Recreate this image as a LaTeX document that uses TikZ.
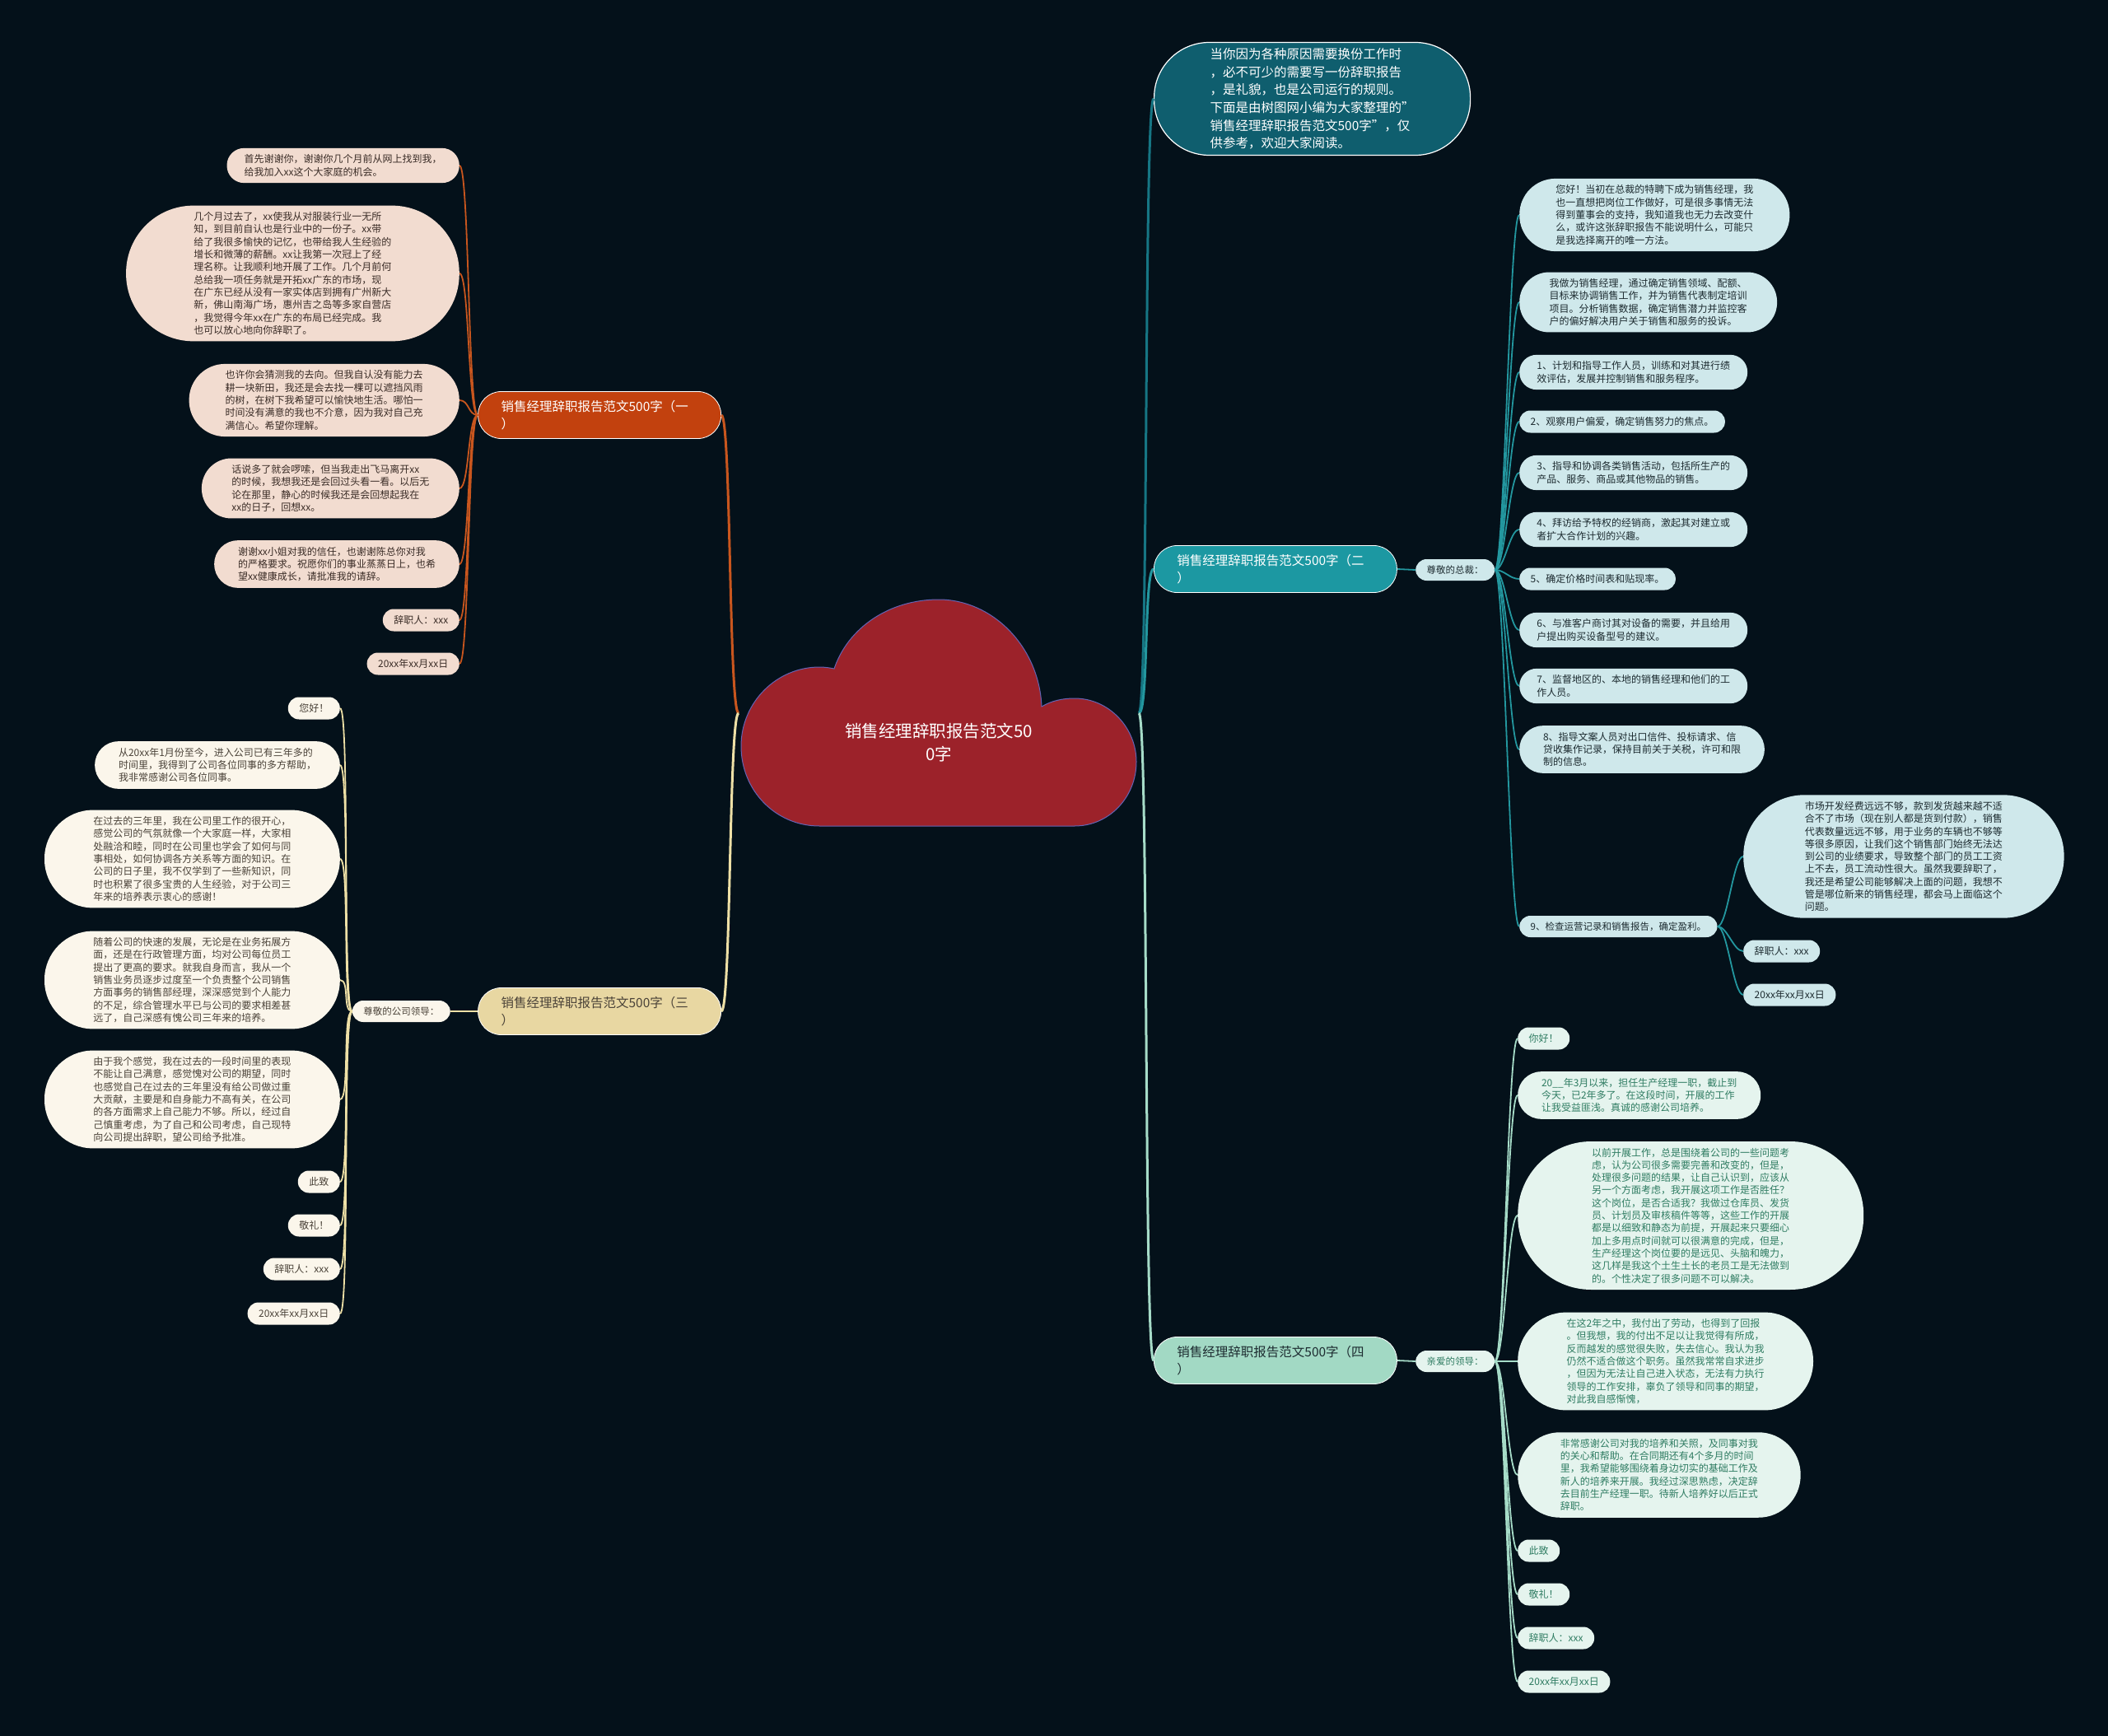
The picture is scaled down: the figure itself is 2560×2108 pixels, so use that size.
\documentclass[tikz,border=0pt]{standalone}
\usepackage{fontspec}
\setmainfont{Noto Sans CJK SC}
\usepackage{tikz}

\definecolor{bgnavy}{HTML}{04111A}
\definecolor{cloudred}{HTML}{9C222A}
\definecolor{cloudedge}{HTML}{6464B4}
\definecolor{orangebr}{HTML}{C2410E}
\definecolor{orangeln}{HTML}{C9561E}
\definecolor{peachfill}{HTML}{F2DCD0}
\definecolor{peachink}{HTML}{3A2C26}
\definecolor{tealbr}{HTML}{1C98A2}
\definecolor{tealln}{HTML}{23979F}
\definecolor{tealfill}{HTML}{CFE8EB}
\definecolor{tealink}{HTML}{1D2B30}
\definecolor{introfill}{HTML}{0F5E6E}
\definecolor{introln}{HTML}{167684}
\definecolor{creambr}{HTML}{E8D7A2}
\definecolor{creamln}{HTML}{EEE0A6}
\definecolor{creamfill}{HTML}{FBF6EB}
\definecolor{creamink}{HTML}{4A4238}
\definecolor{mintbr}{HTML}{A2D9C4}
\definecolor{mintln}{HTML}{A6DCC8}
\definecolor{mintfill}{HTML}{E5F4EE}
\definecolor{mintink}{HTML}{2F7C62}

\begin{document}
\begin{tikzpicture}[
  x=1pt, y=-1pt,
  every node/.style={align=left, inner xsep=1pt, inner ysep=7.5pt},
  pill/.style={minimum height={27pt+(#1-1)*15.3pt}, rounded corners={13.3pt+(#1-1)*7.6pt}, inner xsep={13.5pt+(#1-1)*7.65pt}},
  leaf/.style={font=\fontsize{12}{15.3}\selectfont},
  orleaf/.style={leaf, fill=peachfill, text=peachink},
  tlleaf/.style={leaf, fill=tealfill, text=tealink},
  crleaf/.style={leaf, fill=creamfill, text=creamink},
  mtleaf/.style={leaf, fill=mintfill, text=mintink},
  tag/.style={pill=1, font=\fontsize{11.5}{14}\selectfont, minimum height=26pt},
  branch/.style={font=\fontsize{15.5}{21}\selectfont, text width=239pt, minimum height=57pt, inner xsep=28pt, inner ysep=10pt, rounded corners=28pt, draw=white, line width=0.8pt},
  trunk/.style={line width=3pt},
  twig/.style={line width=1.8pt},
  tol/.style={to path={.. controls +(-12,0) and +(12,0) .. (\tikztotarget)}},
  tor/.style={to path={.. controls +(12,0) and +(-12,0) .. (\tikztotarget)}},
]
\useasboundingbox (0,0) rectangle (2560,2108);
\fill[bgnavy] (0,0) rectangle (2560,2108);

% Root — cloud
\draw[fill=cloudred, draw=cloudedge, line width=1pt]
  (995,1003) .. controls (942,1003) and (900,960) .. (900,906)
  .. controls (900,853) and (943,810) .. (995,810)
  .. controls (1002,810) and (1008,811) .. (1013,812)
  .. controls (1030,762) and (1080,728) .. (1140,728)
  .. controls (1205,728) and (1262,785) .. (1265,858)
  .. controls (1277,851) and (1290,848) .. (1305,848)
  .. controls (1347,848) and (1380,884) .. (1380,925)
  .. controls (1380,968) and (1347,1003) .. (1305,1003)
  -- cycle;
\node[align=center, text=white, font=\fontsize{20.5}{28}\selectfont] (root) at (1140,902) {销售经理辞职报告范文50\\0字};
\coordinate (cL) at (897,866);
\coordinate (cR) at (1383,866);

% Intro
\node[fill=introfill, draw=white, line width=1.2pt, text=white, rounded corners=67pt,
  minimum height=137pt, inner xsep=68pt, inner ysep=6.5pt,
  font=\fontsize{15.5}{21.7}\selectfont, anchor=west] (intro) at (1401,120)
  {当你因为各种原因需要换份工作时\\
   ，必不可少的需要写一份辞职报告\\
   ，是礼貌，也是公司运行的规则。\\
   下面是由树图网小编为大家整理的"\\
   销售经理辞职报告范文500字"，仅\\
   供参考，欢迎大家阅读。};

% Branch 1 — 一
\node[branch, fill=orangebr, text=white, anchor=east] (b1) at (876,504) {销售经理辞职报告范文500字（一\\）};
\node[orleaf, pill=2, anchor=east] (a1) at (558,201) {首先谢谢你，谢谢你几个月前从网上找到我，\\给我加入xx这个大家庭的机会。};
\node[orleaf, pill=10, anchor=east] (a2) at (558,332)
  {几个月过去了，xx使我从对服装行业一无所\\
   知，到目前自认也是行业中的一份子。xx带\\
   给了我很多愉快的记忆，也带给我人生经验的\\
   增长和微薄的薪酬。xx让我第一次冠上了经\\
   理名称。让我顺利地开展了工作。几个月前何\\
   总给我一项任务就是开拓xx广东的市场，现\\
   在广东已经从没有一家实体店到拥有广州新大\\
   新，佛山南海广场，惠州吉之岛等多家自营店\\
   ，我觉得今年xx在广东的布局已经完成。我\\
   也可以放心地向你辞职了。};
\node[orleaf, pill=5, anchor=east] (a3) at (558,486)
  {也许你会猜测我的去向。但我自认没有能力去\\
   耕一块新田，我还是会去找一棵可以遮挡风雨\\
   的树，在树下我希望可以愉快地生活。哪怕一\\
   时间没有满意的我也不介意，因为我对自己充\\
   满信心。希望你理解。};
\node[orleaf, pill=4, anchor=east] (a4) at (558,593)
  {话说多了就会啰嗦，但当我走出飞马离开xx\\
   的时候，我想我还是会回过头看一看。以后无\\
   论在那里，静心的时候我还是会回想起我在\\
   xx的日子，回想xx。};
\node[orleaf, pill=3, anchor=east] (a5) at (558,685)
  {谢谢xx小姐对我的信任，也谢谢陈总你对我\\
   的严格要求。祝愿你们的事业蒸蒸日上，也希\\
   望xx健康成长，请批准我的请辞。};
\node[orleaf, pill=1, anchor=east] (a6) at (558,753) {辞职人：xxx};
\node[orleaf, pill=1, anchor=east] (a7) at (558,806) {20xx年xx月xx日};

% Branch 3 — 三
\node[branch, fill=creambr, text=creamink, anchor=east] (b3) at (876,1228) {销售经理辞职报告范文500字（三\\）};
\node[tag, fill=creamfill, text=creamink, anchor=east] (t3) at (547,1228) {尊敬的公司领导：};
\node[crleaf, pill=1, anchor=east] (c1) at (413,860) {您好！};
\node[crleaf, pill=3, anchor=east] (c2) at (413,929)
  {从20xx年1月份至今，进入公司已有三年多的\\
   时间里，我得到了公司各位同事的多方帮助，\\
   我非常感谢公司各位同事。};
\node[crleaf, pill=7, anchor=east] (c3) at (413,1043)
  {在过去的三年里，我在公司里工作的很开心，\\
   感觉公司的气氛就像一个大家庭一样，大家相\\
   处融洽和睦，同时在公司里也学会了如何与同\\
   事相处，如何协调各方关系等方面的知识。在\\
   公司的日子里，我不仅学到了一些新知识，同\\
   时也积累了很多宝贵的人生经验，对于公司三\\
   年来的培养表示衷心的感谢！};
\node[crleaf, pill=7, anchor=east] (c4) at (413,1190)
  {随着公司的快速的发展，无论是在业务拓展方\\
   面，还是在行政管理方面，均对公司每位员工\\
   提出了更高的要求。就我自身而言，我从一个\\
   销售业务员逐步过度至一个负责整个公司销售\\
   方面事务的销售部经理，深深感觉到个人能力\\
   的不足，综合管理水平已与公司的要求相差甚\\
   远了，自己深感有愧公司三年来的培养。};
\node[crleaf, pill=7, anchor=east] (c5) at (413,1335)
  {由于我个感觉，我在过去的一段时间里的表现\\
   不能让自己满意，感觉愧对公司的期望，同时\\
   也感觉自己在过去的三年里没有给公司做过重\\
   大贡献，主要是和自身能力不高有关，在公司\\
   的各方面需求上自己能力不够。所以，经过自\\
   己慎重考虑，为了自己和公司考虑，自己现特\\
   向公司提出辞职，望公司给予批准。};
\node[crleaf, pill=1, anchor=east] (c6) at (413,1435) {此致};
\node[crleaf, pill=1, anchor=east] (c7) at (413,1488) {敬礼！};
\node[crleaf, pill=1, anchor=east] (c8) at (413,1541) {辞职人：xxx};
\node[crleaf, pill=1, anchor=east] (c9) at (413,1595) {20xx年xx月xx日};

% Branch 2 — 二
\node[branch, fill=tealbr, text=white, anchor=west] (b2) at (1401,691) {销售经理辞职报告范文500字（二\\）};
\node[tag, fill=tealfill, text=tealink, anchor=west] (t2) at (1719,692) {尊敬的总裁：};
\node[tlleaf, pill=5, anchor=west] (d1) at (1845,261)
  {您好！当初在总裁的特聘下成为销售经理，我\\
   也一直想把岗位工作做好，可是很多事情无法\\
   得到董事会的支持，我知道我也无力去改变什\\
   么，或许这张辞职报告不能说明什么，可能只\\
   是我选择离开的唯一方法。};
\node[tlleaf, pill=4, anchor=west] (d2) at (1845,367)
  {我做为销售经理，通过确定销售领域、配额、\\
   目标来协调销售工作，并为销售代表制定培训\\
   项目。分析销售数据，确定销售潜力并监控客\\
   户的偏好解决用户关于销售和服务的投诉。};
\node[tlleaf, pill=2, anchor=west] (d3) at (1845,452) {1、计划和指导工作人员，训练和对其进行绩\\效评估，发展并控制销售和服务程序。};
\node[tlleaf, pill=1, anchor=west] (d4) at (1845,512) {2、观察用户偏爱，确定销售努力的焦点。};
\node[tlleaf, pill=2, anchor=west] (d5) at (1845,574) {3、指导和协调各类销售活动，包括所生产的\\产品、服务、商品或其他物品的销售。};
\node[tlleaf, pill=2, anchor=west] (d6) at (1845,643) {4、拜访给予特权的经销商，激起其对建立或\\者扩大合作计划的兴趣。};
\node[tlleaf, pill=1, anchor=west] (d7) at (1845,703) {5、确定价格时间表和贴现率。};
\node[tlleaf, pill=2, anchor=west] (d8) at (1845,765) {6、与准客户商讨其对设备的需要，并且给用\\户提出购买设备型号的建议。};
\node[tlleaf, pill=2, anchor=west] (d9) at (1845,833) {7、监督地区的、本地的销售经理和他们的工\\作人员。};
\node[tlleaf, pill=3, anchor=west] (d10) at (1845,910) {8、指导文案人员对出口信件、投标请求、信\\贷收集作记录，保持目前关于关税，许可和限\\制的信息。};
\node[tag, fill=tealfill, text=tealink, anchor=west] (d11) at (1845,1125) {9、检查运营记录和销售报告，确定盈利。};
\node[tlleaf, pill=9, anchor=west] (e1) at (2117,1040)
  {市场开发经费远远不够，款到发货越来越不适\\
   合不了市场（现在别人都是货到付款），销售\\
   代表数量远远不够，用于业务的车辆也不够等\\
   等很多原因，让我们这个销售部门始终无法达\\
   到公司的业绩要求，导致整个部门的员工工资\\
   上不去，员工流动性很大。虽然我要辞职了，\\
   我还是希望公司能够解决上面的问题，我想不\\
   管是哪位新来的销售经理，都会马上面临这个\\
   问题。};
\node[tlleaf, pill=1, anchor=west] (e2) at (2117,1155) {辞职人：xxx};
\node[tlleaf, pill=1, anchor=west] (e3) at (2117,1208) {20xx年xx月xx日};

% Branch 4 — 四
\node[branch, fill=mintbr, text=tealink, anchor=west] (b4) at (1401,1652) {销售经理辞职报告范文500字（四\\）};
\node[tag, fill=mintfill, text=mintink, anchor=west] (t4) at (1719,1653) {亲爱的领导：};
\node[mtleaf, pill=1, anchor=west] (f1) at (1843,1261) {你好！};
\node[mtleaf, pill=3, anchor=west] (f2) at (1843,1330)
  {20\_\_年3月以来，担任生产经理一职，截止到\\
   今天，已2年多了。在这段时间，开展的工作\\
   让我受益匪浅。真诚的感谢公司培养。};
\node[mtleaf, pill=11, anchor=west] (f3) at (1843,1476)
  {以前开展工作，总是围绕着公司的一些问题考\\
   虑，认为公司很多需要完善和改变的，但是，\\
   处理很多问题的结果，让自己认识到，应该从\\
   另一个方面考虑，我开展这项工作是否胜任？\\
   这个岗位，是否合适我？我做过仓库员、发货\\
   员、计划员及审核稿件等等，这些工作的开展\\
   都是以细致和静态为前提，开展起来只要细心\\
   加上多用点时间就可以很满意的完成，但是，\\
   生产经理这个岗位要的是远见、头脑和魄力，\\
   这几样是我这个土生土长的老员工是无法做到\\
   的。个性决定了很多问题不可以解决。};
\node[mtleaf, pill=7, anchor=west] (f4) at (1843,1653)
  {在这2年之中，我付出了劳动，也得到了回报\\
   。但我想，我的付出不足以让我觉得有所成，\\
   反而越发的感觉很失败，失去信心。我认为我\\
   仍然不适合做这个职务。虽然我常常自求进步\\
   ，但因为无法让自己进入状态，无法有力执行\\
   领导的工作安排，辜负了领导和同事的期望，\\
   对此我自感惭愧，};
\node[mtleaf, pill=6, anchor=west] (f5) at (1843,1791)
  {非常感谢公司对我的培养和关照，及同事对我\\
   的关心和帮助。在合同期还有4个多月的时间\\
   里，我希望能够围绕着身边切实的基础工作及\\
   新人的培养来开展。我经过深思熟虑，决定辞\\
   去目前生产经理一职。待新人培养好以后正式\\
   辞职。};
\node[mtleaf, pill=1, anchor=west] (f6) at (1843,1883) {此致};
\node[mtleaf, pill=1, anchor=west] (f7) at (1843,1936) {敬礼！};
\node[mtleaf, pill=1, anchor=west] (f8) at (1843,1989) {辞职人：xxx};
\node[mtleaf, pill=1, anchor=west] (f9) at (1843,2042) {20xx年xx月xx日};

% connectors — root to branches
\draw[trunk, orangeln, tol] (cL) to (b1.east);
\draw[trunk, creamln, tol] (cL) to (b3.east);
\draw[trunk, introln, tor] (cR) to (intro.west);
\draw[trunk, tealln, tor] (cR) to (b2.west);
\draw[trunk, mintln, tor] (cR) to (b4.west);

% connectors — branches to tags
\draw[twig, creamln] (b3.west) -- (t3.east);
\draw[twig, tealln] (b2.east) -- (t2.west);
\draw[twig, mintln] (b4.east) -- (t4.west);

% connectors — leaves
\draw[twig, orangeln, tol] (b1.west) to (a1.east);
\draw[twig, orangeln, tol] (b1.west) to (a2.east);
\draw[twig, orangeln, tol] (b1.west) to (a3.east);
\draw[twig, orangeln, tol] (b1.west) to (a4.east);
\draw[twig, orangeln, tol] (b1.west) to (a5.east);
\draw[twig, orangeln, tol] (b1.west) to (a6.east);
\draw[twig, orangeln, tol] (b1.west) to (a7.east);

\draw[twig, creamln, tol] (t3.west) to (c1.east);
\draw[twig, creamln, tol] (t3.west) to (c2.east);
\draw[twig, creamln, tol] (t3.west) to (c3.east);
\draw[twig, creamln, tol] (t3.west) to (c4.east);
\draw[twig, creamln, tol] (t3.west) to (c5.east);
\draw[twig, creamln, tol] (t3.west) to (c6.east);
\draw[twig, creamln, tol] (t3.west) to (c7.east);
\draw[twig, creamln, tol] (t3.west) to (c8.east);
\draw[twig, creamln, tol] (t3.west) to (c9.east);

\draw[twig, tealln, tor] (t2.east) to (d1.west);
\draw[twig, tealln, tor] (t2.east) to (d2.west);
\draw[twig, tealln, tor] (t2.east) to (d3.west);
\draw[twig, tealln, tor] (t2.east) to (d4.west);
\draw[twig, tealln, tor] (t2.east) to (d5.west);
\draw[twig, tealln, tor] (t2.east) to (d6.west);
\draw[twig, tealln, tor] (t2.east) to (d7.west);
\draw[twig, tealln, tor] (t2.east) to (d8.west);
\draw[twig, tealln, tor] (t2.east) to (d9.west);
\draw[twig, tealln, tor] (t2.east) to (d10.west);
\draw[twig, tealln, tor] (t2.east) to (d11.west);
\draw[twig, tealln, tor] (d11.east) to (e1.west);
\draw[twig, tealln, tor] (d11.east) to (e2.west);
\draw[twig, tealln, tor] (d11.east) to (e3.west);

\draw[twig, mintln, tor] (t4.east) to (f1.west);
\draw[twig, mintln, tor] (t4.east) to (f2.west);
\draw[twig, mintln, tor] (t4.east) to (f3.west);
\draw[twig, mintln, tor] (t4.east) to (f4.west);
\draw[twig, mintln, tor] (t4.east) to (f5.west);
\draw[twig, mintln, tor] (t4.east) to (f6.west);
\draw[twig, mintln, tor] (t4.east) to (f7.west);
\draw[twig, mintln, tor] (t4.east) to (f8.west);
\draw[twig, mintln, tor] (t4.east) to (f9.west);

\end{tikzpicture}
\end{document}
